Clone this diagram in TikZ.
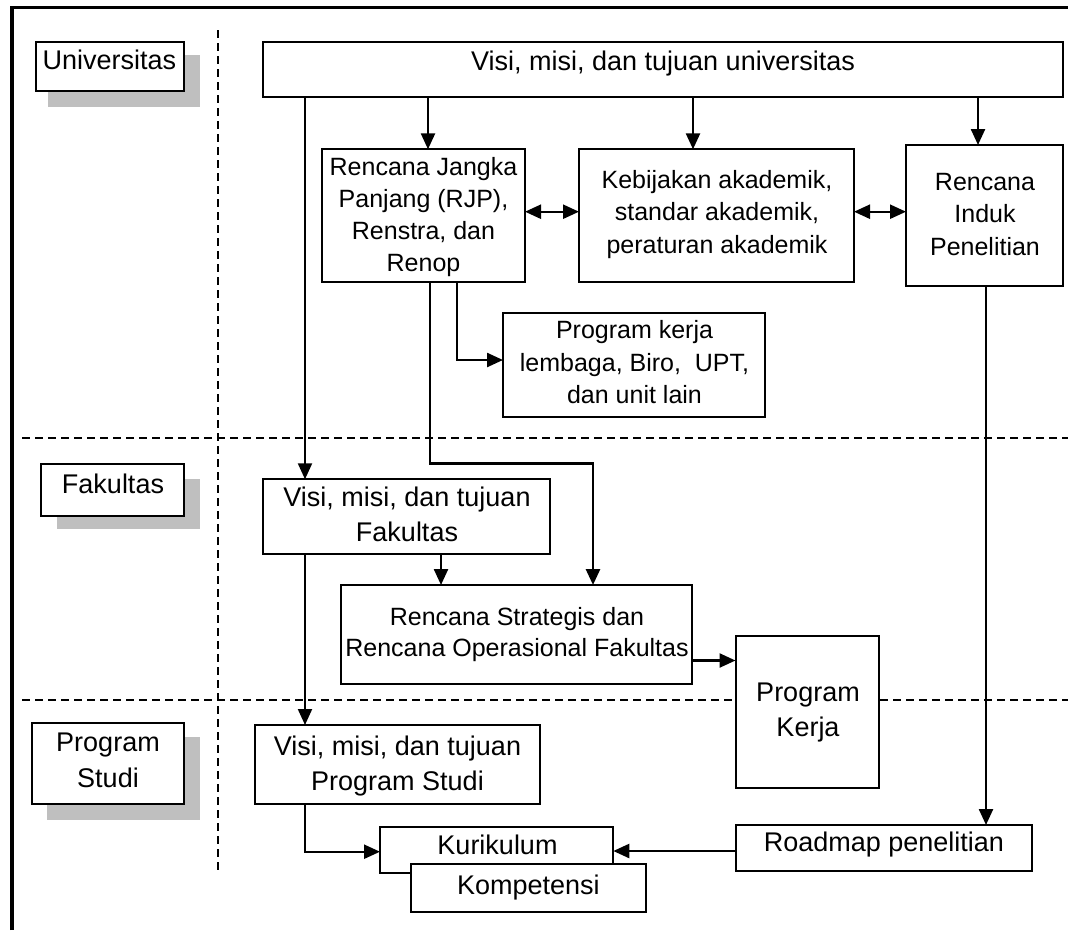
\documentclass[tikz,border=0pt]{standalone}
\usepackage{fontspec}
\setmainfont{Liberation Sans}
\usetikzlibrary{arrows.meta}
\newcommand{\mylines}[3]{\fontsize{#1}{#2}\selectfont\begin{tabular}[t]{@{}c@{}}#3\end{tabular}}
\tikzset{
  box/.style={draw=black, line width=2pt, fill=white, inner sep=0pt, outer sep=0pt, anchor=north west},
  shadowbox/.style={fill=black!25, draw=none, inner sep=0pt, outer sep=0pt, anchor=north west},
  txt/.style={inner sep=0pt, outer sep=0pt, anchor=base, text=black},
  big/.style={font=\fontsize{27}{33}\selectfont},
  conn/.style={line width=2.4pt, draw=black},
  arr/.style={conn, -{Triangle[length=16pt,width=14pt]}},
  darr/.style={conn, {Triangle[length=16pt,width=14pt]}-{Triangle[length=16pt,width=14pt]}},
  sepline/.style={line width=2pt, dash pattern=on 8pt off 5pt},
  frameline/.style={line width=3.5pt, line join=miter},
}
\begin{document}
\begin{tikzpicture}[x=1pt,y=-1pt]
\useasboundingbox (0,0) rectangle (1068,930);
% frame
\draw[frameline] (12,930) -- (12,7.5) -- (1068,7.5);
% separators
\draw[sepline] (218,30) -- (218,873);
\draw[sepline] (22,438.3) -- (1068,438.3);
\draw[sepline] (22,700) -- (1068,700);
% level labels with shadows
\node[shadowbox, minimum width=152pt, minimum height=51.7pt] (univS) at (48,55) {};
\node[box, minimum width=148pt, minimum height=49.3pt] (univL) at (36,41.7) {};
\node[txt, big] (univL-t) at (109.5,69.3) {Universitas};
\node[shadowbox, minimum width=143pt, minimum height=50pt] (fakS) at (57,479.3) {};
\node[box, minimum width=143pt, minimum height=51.4pt] (fakL) at (41,464.3) {};
\node[txt, big] (fakL-t) at (113,493.3) {Fakultas};
\node[shadowbox, minimum width=153pt, minimum height=82.7pt] (prodiS) at (47,737.3) {};
\node[box, minimum width=152pt, minimum height=81pt] (prodiL) at (32,723.3) {};
\node[txt] (prodiL-t) at (108,751.7) {\mylines{27}{35.6}{Program\\Studi}};
% main boxes
\node[box, minimum width=800pt, minimum height=55pt] (top) at (263,41.7) {};
\node[txt, big] (top-t) at (663,70) {Visi, misi, dan tujuan universitas};
\node[box, minimum width=203pt, minimum height=132.4pt] (rjp) at (322,149.3) {};
\node[txt] (rjp-t) at (423.5,175) {\mylines{25}{32.2}{Rencana Jangka\\Panjang (RJP),\\Renstra, dan\\Renop}};
\node[box, minimum width=275pt, minimum height=132.4pt] (keb) at (579,149.3) {};
\node[txt] (keb-t) at (717,188.3) {\mylines{25}{32.5}{Kebijakan akademik,\\standar akademik,\\peraturan akademik}};
\node[box, minimum width=157pt, minimum height=140.7pt] (rip) at (906,145) {};
\node[txt] (rip-t) at (985,190) {\mylines{25}{32.5}{Rencana\\Induk\\Penelitian}};
\node[box, minimum width=262pt, minimum height=104pt] (pkl) at (503,313.3) {};
\node[txt] (pkl-t) at (634.5,338.3) {\mylines{25}{32.8}{Program kerja\\lembaga, Biro,\ \ UPT,\\dan unit lain}};
\node[box, minimum width=287pt, minimum height=74.7pt] (vfak) at (263,479.3) {};
\node[txt] (vfak-t) at (407,506.7) {\mylines{27}{35}{Visi, misi, dan tujuan\\Fakultas}};
\node[box, minimum width=350.7pt, minimum height=99pt] (ren) at (341,585) {};
\node[txt] (ren-t) at (517,625) {\mylines{25}{31.7}{Rencana Strategis dan\\Rencana Operasional Fakultas}};
\node[box, minimum width=143.5pt, minimum height=151.7pt] (pk) at (735.5,636) {};
\node[txt] (pk-t) at (808,701.7) {\mylines{27}{35}{Program\\Kerja}};
\node[box, minimum width=285pt, minimum height=79.3pt] (vprodi) at (255,725) {};
\node[txt] (vprodi-t) at (397.5,755) {\mylines{27}{35}{Visi, misi, dan tujuan\\Program Studi}};
\node[box, minimum width=233.3pt, minimum height=46.6pt] (kur) at (380,826.7) {};
\node[txt, big] (kur-t) at (497.5,854) {Kurikulum};
\node[box, minimum width=235pt, minimum height=48pt] (komp) at (410.7,864.3) {};
\node[txt, big] (komp-t) at (528.3,894) {Kompetensi};
\node[box, minimum width=296.5pt, minimum height=45.7pt] (road) at (735.5,825) {};
\node[txt, big] (road-t) at (884,851.7) {Roadmap penelitian};
% connectors
\draw[arr] (top.south -| 428,0) -- (rjp.north -| 428,0);
\draw[arr] (top.south -| 693,0) -- (keb.north -| 693,0);
\draw[arr] (top.south -| 978,0) -- (rip.north -| 978,0);
\draw[darr] (rjp.east |- 0,211.7) -- (keb.west |- 0,211.7);
\draw[darr] (keb.east |- 0,211.7) -- (rip.west |- 0,211.7);
\draw[arr] (rjp.south -| 457,0) |- (pkl.west |- 0,360);
\draw[arr, line width=2.8pt] (rjp.south -| 430,0) -- (430,463.3) -| (ren.north -| 593,0);
\draw[arr, line width=2pt] (top.south -| 305,0) -- (vfak.north -| 305,0);
\draw[arr] (vfak.south -| 441,0) -- (ren.north -| 441,0);
\draw[arr] (ren.east |- 0,660.5) -- (pk.west |- 0,660.5);
\draw[arr, line width=2pt] (vfak.south -| 305,0) -- (vprodi.north -| 305,0);
\draw[arr] (vprodi.south -| 305,0) |- (kur.west |- 0,851.7);
\draw[arr] (rip.south -| 986,0) -- (road.north -| 986,0);
\draw[arr] (road.west |- 0,851) -- (kur.east |- 0,851);
\end{tikzpicture}
\end{document}
